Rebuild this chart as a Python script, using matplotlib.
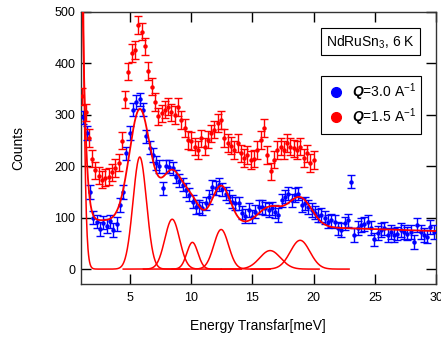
import numpy as np
import matplotlib
matplotlib.use("Agg")
import matplotlib.pyplot as plt

plt.rcParams['font.family'] = ['Liberation Sans', 'DejaVu Sans']
plt.rcParams['mathtext.fontset'] = 'custom'
plt.rcParams['mathtext.rm'] = 'Liberation Sans'
plt.rcParams['mathtext.it'] = 'Liberation Sans:italic'
plt.rcParams['mathtext.bf'] = 'Liberation Sans:bold:italic'

# ---------------- data ----------------
q30_x = [1.2, 1.47, 1.74, 2.01, 2.28, 2.55, 2.82, 3.09, 3.36, 3.63, 3.9, 4.17, 4.44, 4.71, 4.98,
         5.25, 5.52, 5.79, 6.06, 6.33, 6.6, 6.87, 7.14, 7.41, 7.68, 7.95, 8.22, 8.49, 8.76, 9.03,
         9.3, 9.57, 9.84, 10.11, 10.38, 10.65, 10.92, 11.19, 11.46, 11.73, 12.0, 12.27, 12.54,
         12.81, 13.08, 13.35, 13.62, 13.89, 14.16, 14.43, 14.7, 14.97, 15.24, 15.51, 15.78, 16.05,
         16.32, 16.59, 16.86, 17.13, 17.4, 17.67, 17.94, 18.21, 18.48, 18.75, 19.02, 19.29, 19.56,
         19.83, 20.1, 20.37, 20.64, 20.91, 21.18, 21.45, 21.72, 21.99, 22.26, 22.53, 22.8, 23.07,
         23.34, 23.61, 23.88, 24.15, 24.42, 24.69, 24.96, 25.23, 25.5, 25.77, 26.04, 26.31, 26.58,
         26.85, 27.12, 27.39, 27.66, 27.93, 28.2, 28.47, 28.74, 29.01, 29.28, 29.55, 29.82]
q30_y = [295, 265, 150, 100, 92, 78, 90, 84, 93, 76, 88, 125, 150, 225, 265,
         310, 325, 330, 310, 258, 236, 222, 206, 200, 157, 200, 199, 196, 180, 172,
         164, 154, 145, 131, 121, 122, 118, 128, 140, 160, 158, 164, 155,
         147, 141, 131, 128, 128, 110, 103, 115, 102, 112, 121, 121, 118,
         115, 118, 112, 105, 134, 141, 147, 134, 144, 147, 125, 128, 121,
         115, 110, 104, 105, 100, 92, 95, 92, 79, 76, 89, 95, 170,
         66, 80, 86, 88, 92, 80, 58, 70, 76, 79, 66, 72, 66,
         69, 76, 72, 69, 72, 53, 86, 72, 66, 63, 82, 72]

q15_x = [1.1, 1.37, 1.64, 1.91, 2.18, 2.45, 2.72, 2.99, 3.26, 3.53, 3.8, 4.07, 4.34, 4.61, 4.88,
         5.15, 5.42, 5.69, 5.96, 6.23, 6.5, 6.77, 7.04, 7.31, 7.58, 7.85, 8.12, 8.39, 8.66, 8.93,
         9.2, 9.47, 9.74, 10.01, 10.28, 10.55, 10.82, 11.09, 11.36, 11.63, 11.9, 12.17, 12.44,
         12.71, 12.98, 13.25, 13.52, 13.79, 14.06, 14.33, 14.6, 14.87, 15.14, 15.41, 15.68, 15.95,
         16.22, 16.49, 16.76, 17.03, 17.3, 17.57, 17.84, 18.11, 18.38, 18.65, 18.92, 19.19, 19.46,
         19.73, 20.0]
q15_y = [336, 305, 255, 215, 192, 182, 174, 178, 180, 188, 197, 207, 250, 330, 384,
         420, 426, 475, 462, 433, 385, 355, 325, 297, 303, 310, 316, 305, 300, 315,
         290, 274, 251, 249, 238, 232, 254, 238, 252, 264, 271, 284, 290,
         255, 245, 240, 232, 245, 225, 216, 222, 212, 215, 232, 251, 274,
         222, 190, 213, 232, 238, 232, 245, 238, 235, 232, 238, 216, 225,
         206, 212]

q30_err = 13
q15_err = 17

# model parameters (Gaussian components)
peak_centers = [5.8, 8.45, 10.1, 12.45, 16.45, 18.9]
peak_amps = [218, 97, 52, 77, 36, 56]
peak_sigmas = [0.55, 0.6, 0.45, 0.6, 0.85, 0.8]
elastic_amp, elastic_sigma = 17500, 0.45

fit_amps = [218, 100, 35, 75, 36, 56]
fit_sigmas = [0.85, 0.9, 0.65, 0.75, 1.0, 0.95]
fit_elastic_amp, fit_elastic_sigma = 2450, 0.6
bg_ends = [96, 74]          # background at E = 1 and E = 30 meV

labels = [r"$\mathbf{Q}$=3.0 A$^{-1}$", r"$\mathbf{Q}$=1.5 A$^{-1}$"]


def gauss(x, c, a, s):
    return a * np.exp(-(x - c) ** 2 / (2 * s ** 2))


fig = plt.figure(figsize=(4.41, 3.38), dpi=100)
ax = fig.add_axes([81 / 441, 1 - 284 / 338, 355 / 441, 272 / 338])

red = '#ff0000'
blue = '#0000ff'

# fit through Q = 3.0 data
xf = np.linspace(0.95, 30.0, 800)
bg = bg_ends[0] + (bg_ends[1] - bg_ends[0]) * (xf - 1.0) / 29.0
fit = bg + gauss(xf, 0.0, fit_elastic_amp, fit_elastic_sigma)
for c, a, s in zip(peak_centers, fit_amps, fit_sigmas):
    fit = fit + gauss(xf, c, a, s)

# components
x0 = np.linspace(0.95, peak_centers[0] + 4, 400)
ax.plot(x0, gauss(x0, 0.0, elastic_amp, elastic_sigma) + gauss(x0, peak_centers[0], peak_amps[0], peak_sigmas[0]),
        color=red, lw=1.1, zorder=3)
for c, a, s in zip(peak_centers[1:], peak_amps[1:], peak_sigmas[1:]):
    xc = np.linspace(c - 4, c + 4, 300)
    ax.plot(xc, gauss(xc, c, a, s), color=red, lw=1.1, zorder=3)

ax.errorbar(q30_x, q30_y, yerr=q30_err, fmt='o', ms=2.2, color=blue, ecolor=blue,
            elinewidth=1.0, capsize=2.6, capthick=1.0, zorder=4)
ax.errorbar(q15_x, q15_y, yerr=q15_err, fmt='o', ms=2.2, color=red, ecolor=red,
            elinewidth=1.0, capsize=2.6, capthick=1.0, zorder=4)
ax.plot(xf, fit, color=red, lw=1.3, zorder=5)

# legend handles
h1 = ax.plot([], [], 'o', color=blue, ms=7, label=labels[0])[0]
h2 = ax.plot([], [], 'o', color=red, ms=7, label=labels[1])[0]
leg = ax.legend(handles=[h1, h2], loc='upper right', bbox_to_anchor=(0.958, 0.765),
                borderaxespad=0, fancybox=False, edgecolor='black', framealpha=1,
                fontsize=10, handletextpad=0.4, handlelength=1.4, borderpad=0.4,
                labelspacing=0.25)
leg.get_frame().set_linewidth(0.8)

ax.text(0.941, 0.922, r"NdRuSn$_3$, 6 K", transform=ax.transAxes, ha='right', va='top',
        fontsize=10, bbox=dict(boxstyle='square,pad=0.35', fc='white', ec='black', lw=0.8))

ax.set_xlim(1.0, 30.0)
ax.set_ylim(-29, 500)
ax.set_xticks([5, 10, 15, 20, 25, 30])
ax.set_yticks([0, 100, 200, 300, 400, 500])
ax.tick_params(direction='in', length=7, width=1, top=True, right=True, labelsize=9)
ax.tick_params(axis='x', pad=6)
ax.tick_params(axis='y', pad=4)
for sp in ax.spines.values():
    sp.set_linewidth(1)
    sp.set_color('#333333')

ax.set_xlabel("Energy Transfar[meV]", fontsize=10)
ax.set_ylabel("Counts", fontsize=10)
ax.xaxis.set_label_coords(0.4986, -0.13)
ax.yaxis.set_label_coords(-0.158, 0.5)

fig.savefig("out.png", dpi=100)
